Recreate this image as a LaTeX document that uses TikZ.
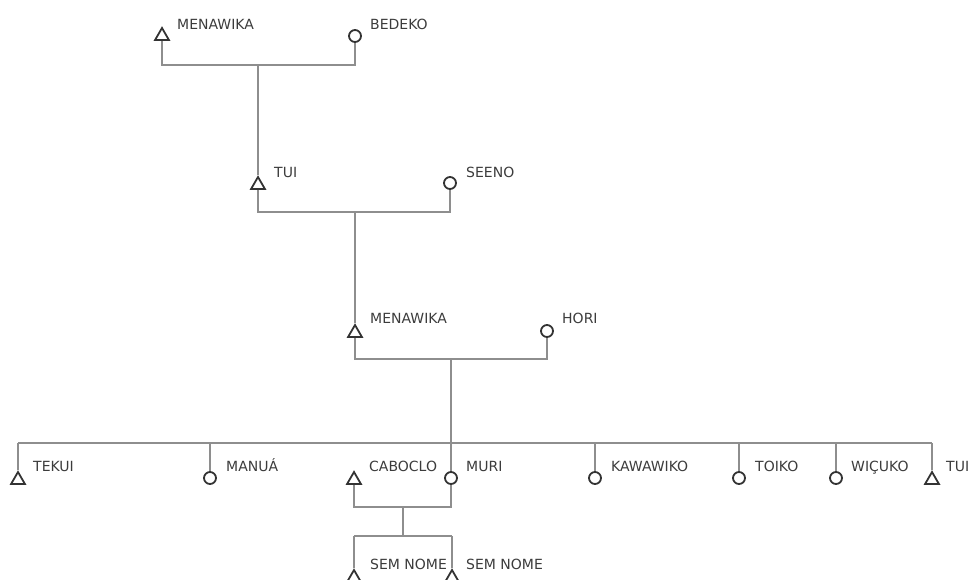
\documentclass[tikz,border=0pt]{standalone}
\usepackage{fontspec}
\setmainfont{DejaVu Sans}
\usetikzlibrary{shapes.geometric}
\definecolor{linkgray}{HTML}{8E8E8E}
\definecolor{symgray}{HTML}{333333}
\definecolor{txtgray}{HTML}{3C3C3C}
\tikzset{
  male/.style={draw=symgray, line width=1.8pt, regular polygon, regular polygon sides=3, minimum size=16pt, inner sep=0pt},
  female/.style={draw=symgray, line width=1.8pt, circle, minimum size=12pt, inner sep=0pt},
  link/.style={draw=linkgray, line width=1.8pt},
  lbl/.style={anchor=base west, inner sep=0pt, text=txtgray, font=\fontsize{14}{16}\selectfont}
}
\begin{document}
\begin{tikzpicture}[x=1pt,y=-1pt]
\useasboundingbox (0,0) rectangle (971,579);
\clip (0,0) rectangle (971,579);
% generation 1
\node[male] (m1) at (162,36) {};
\node[female] (b1) at (355,36) {};
\node[lbl] (lm1) at (177,29) {MENAWIKA};
\node[lbl] (lb1) at (370,29) {BEDEKO};
\coordinate (j1) at (258,65);
% generation 2
\node[male] (t1) at (258,185) {};
\node[female] (s1) at (450,183) {};
\node[lbl] (lt1) at (274,177) {TUI};
\node[lbl] (ls1) at (466,177) {SEENO};
\coordinate (j2) at (355,212);
% generation 3
\node[male] (m2) at (355,333) {};
\node[female] (h1) at (547,331) {};
\node[lbl] (lm2) at (370,323) {MENAWIKA};
\node[lbl] (lh1) at (562,323) {HORI};
\coordinate (j3) at (451,359);
\coordinate (sib) at (451,443);
% generation 4
\node[male] (te) at (18,480) {};
\node[female] (ma) at (210,478) {};
\node[male] (ca) at (354,480) {};
\node[female] (mu) at (451,478) {};
\node[female] (ka) at (595,478) {};
\node[female] (to) at (739,478) {};
\node[female] (wi) at (836,478) {};
\node[male] (tu2) at (932,480) {};
\node[lbl] (lte) at (33,471) {TEKUI};
\node[lbl] (lma) at (226,471) {MANUÁ};
\node[lbl] (lca) at (369,471) {CABOCLO};
\node[lbl] (lmu) at (466,471) {MURI};
\node[lbl] (lka) at (611,471) {KAWAWIKO};
\node[lbl] (lto) at (755,471) {TOIKO};
\node[lbl] (lwi) at (851,471) {WIÇUKO};
\node[lbl] (ltu2) at (946,471) {TUI};
\coordinate (j4) at (403,507);
\coordinate (sib2) at (403,536);
% generation 5
\node[male] (sn1) at (354,578) {};
\node[male] (sn2) at (452,578) {};
\node[lbl] (lsn1) at (370,569) {SEM NOME};
\node[lbl] (lsn2) at (466,569) {SEM NOME};
% connectors
\draw[link] (m1.south) -- (m1.south |- j1) -- (b1.south |- j1) -- (b1.south);
\draw[link] (j1) -- (t1.north);
\draw[link] (t1.south) -- (t1.south |- j2) -- (s1.south |- j2) -- (s1.south);
\draw[link] (j2) -- (m2.north);
\draw[link] (m2.south) -- (m2.south |- j3) -- (h1.south |- j3) -- (h1.south);
\draw[link] (j3) -- (mu.north);
\draw[link] (te.north |- sib) -- (tu2.north |- sib);
\foreach \c in {te,ma,ka,to,wi,tu2} \draw[link] (\c.north) -- (\c.north |- sib);
\draw[link] (ca.south) -- (ca.south |- j4) -- (mu.south |- j4) -- (mu.south);
\draw[link] (j4) -- (sib2);
\draw[link] (sn1.north |- sib2) -- (sn2.north |- sib2);
\draw[link] (sn1.north) -- (sn1.north |- sib2);
\draw[link] (sn2.north) -- (sn2.north |- sib2);
\end{tikzpicture}
\end{document}
